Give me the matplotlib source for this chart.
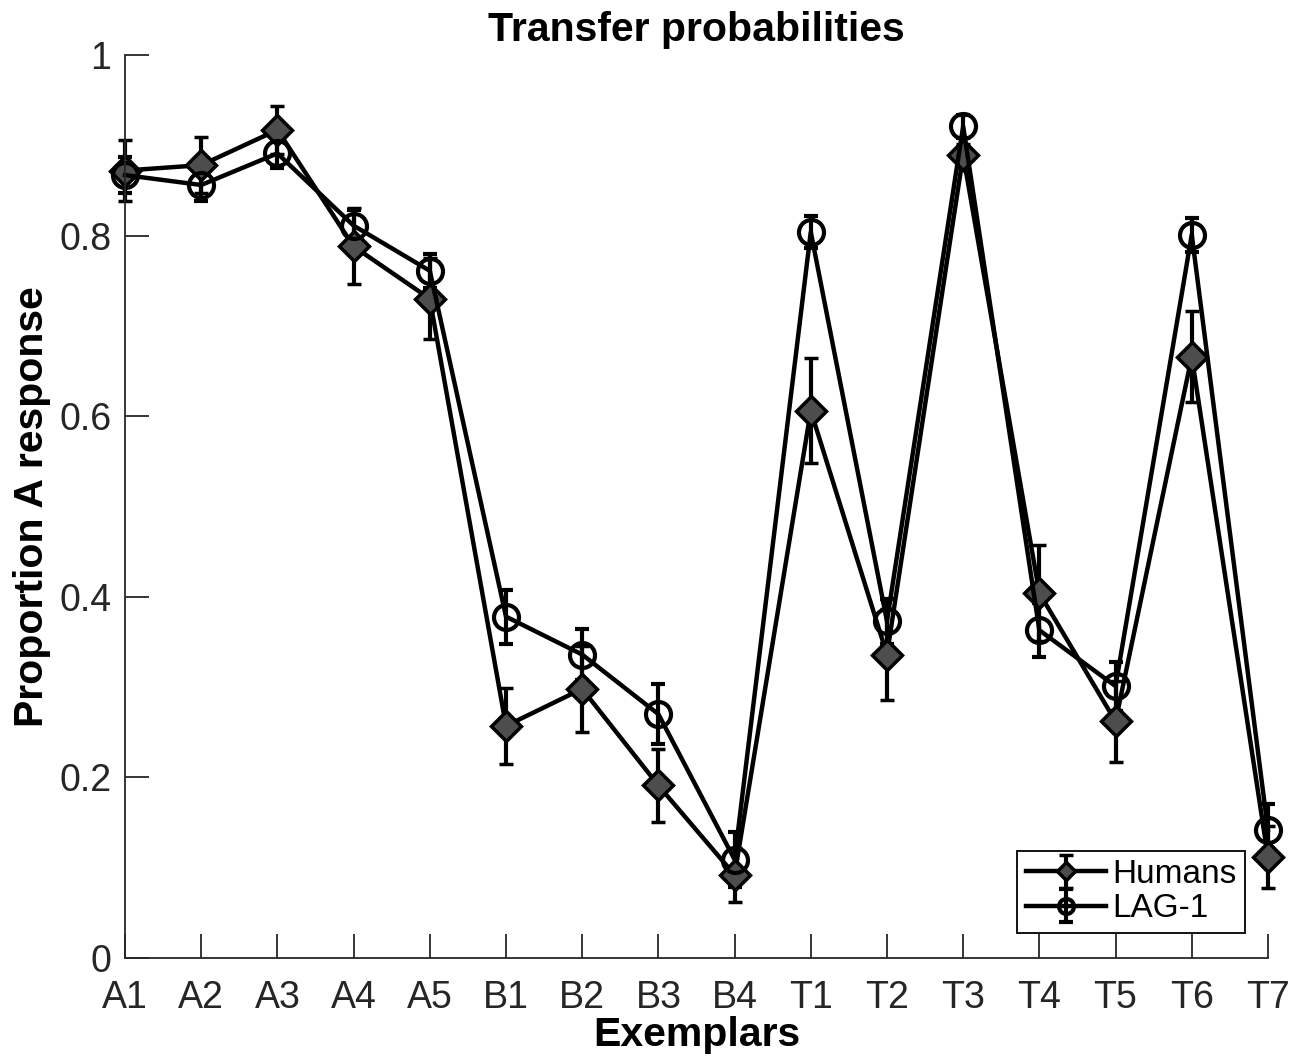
import matplotlib
matplotlib.use('Agg')
import matplotlib.pyplot as plt

exemplars = ['A1', 'A2', 'A3', 'A4', 'A5', 'B1', 'B2', 'B3', 'B4',
             'T1', 'T2', 'T3', 'T4', 'T5', 'T6', 'T7']
humans = [0.872, 0.878, 0.917, 0.788, 0.730, 0.257, 0.298, 0.191, 0.092,
          0.606, 0.336, 0.889, 0.404, 0.262, 0.666, 0.112]
humans_err = [0.034, 0.031, 0.027, 0.042, 0.045, 0.042, 0.048, 0.040, 0.030,
              0.058, 0.050, 0.012, 0.053, 0.045, 0.050, 0.034]
lag1 = [0.867, 0.856, 0.891, 0.811, 0.761, 0.378, 0.336, 0.270, 0.109,
        0.804, 0.373, 0.921, 0.363, 0.301, 0.801, 0.142]
lag1_err = [0.020, 0.018, 0.016, 0.017, 0.019, 0.030, 0.028, 0.033, 0.030,
            0.018, 0.025, 0.013, 0.030, 0.027, 0.019, 0.028]


def main():
    plt.rcParams['font.family'] = ['Liberation Sans', 'DejaVu Sans']
    fig = plt.figure(figsize=(13.05, 10.59), dpi=100)
    ax = fig.add_axes([0.0958, 0.0954, 0.8758, 0.8527])
    x = list(range(1, len(exemplars) + 1))

    ax.errorbar(x, humans, yerr=humans_err, color='black', lw=3.2,
                marker='D', markersize=15, markerfacecolor='#4d4d4d',
                markeredgecolor='black', markeredgewidth=2.5,
                elinewidth=3, capsize=5, capthick=3, label='Humans',
                clip_on=False)
    ax.errorbar(x, lag1, yerr=lag1_err, color='black', lw=3.2,
                marker='o', markersize=18, markerfacecolor='none',
                markeredgecolor='black', markeredgewidth=3,
                elinewidth=3, capsize=5, capthick=3, label='LAG-1',
                clip_on=False)

    ax.set_xlim(1, len(exemplars))
    ax.set_ylim(0, 1)
    ax.set_xticks(x)
    ax.set_xticklabels(exemplars)
    ax.set_yticks([0, 0.2, 0.4, 0.6, 0.8, 1])
    ax.set_yticklabels(['0', '0.2', '0.4', '0.6', '0.8', '1'])
    ax.tick_params(direction='in', length=17, width=1.3, colors='#262626',
                   labelsize=27, labelcolor='#262626')
    ax.tick_params(axis='x', pad=16)
    ax.tick_params(axis='y', pad=10)
    for side in ['top', 'right']:
        ax.spines[side].set_visible(False)
    for side in ['left', 'bottom']:
        ax.spines[side].set_linewidth(1.3)
        ax.spines[side].set_color('#262626')

    ax.set_title('Transfer probabilities', fontsize=29.5, fontweight='bold', pad=10)
    ax.set_xlabel('Exemplars', fontsize=29.5, fontweight='bold', labelpad=0)
    ax.set_ylabel('Proportion A response', fontsize=29.5, fontweight='bold', labelpad=6)

    leg = ax.legend(loc='lower right', bbox_to_anchor=(0.98, 0.028),
                    fontsize=24, fancybox=False, framealpha=1,
                    edgecolor='black', handlelength=2.4, handletextpad=0.2,
                    borderpad=0.25, labelspacing=0.1, borderaxespad=0,
                    markerscale=0.6)
    leg.get_frame().set_linewidth(1.3)

    fig.savefig('out.png', dpi=100)


if __name__ == '__main__':
    main()
